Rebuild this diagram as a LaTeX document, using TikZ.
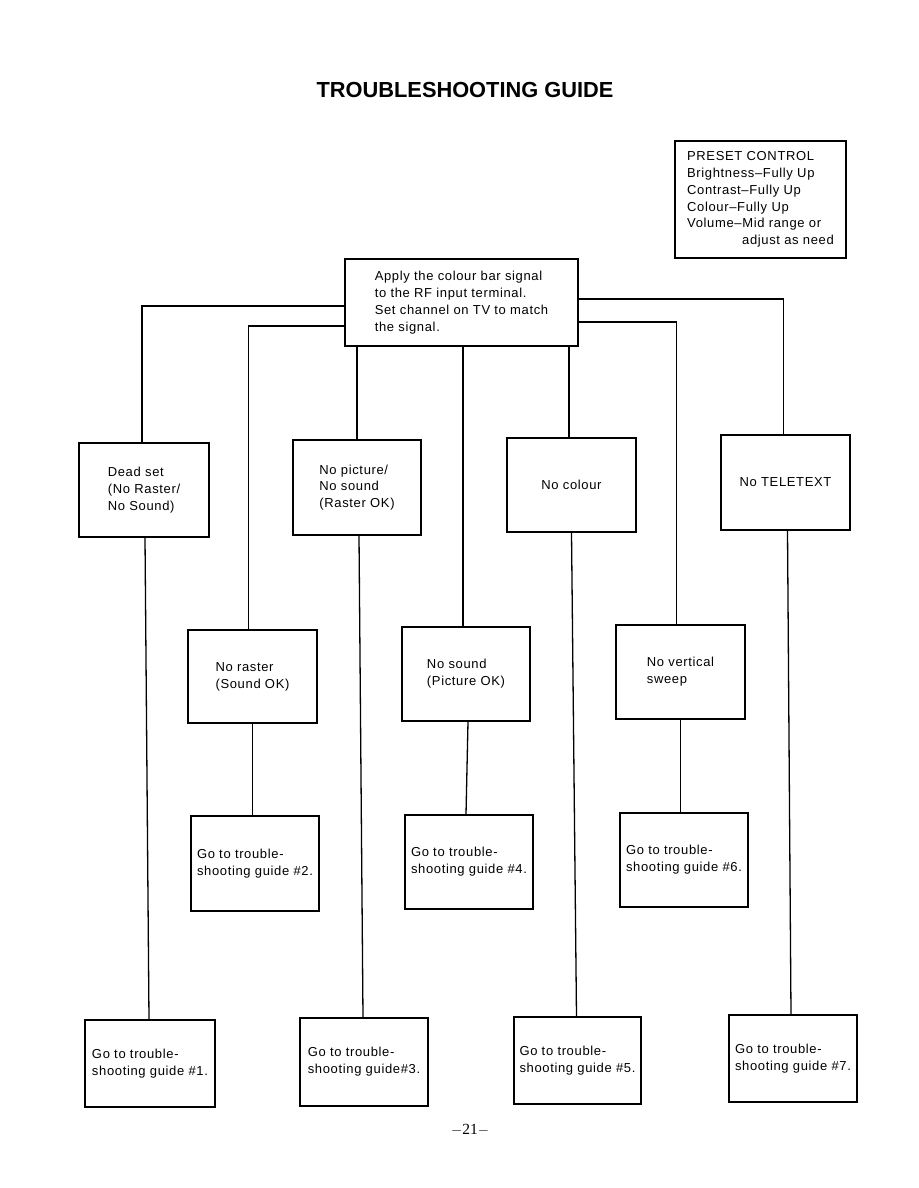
\documentclass[tikz,border=0pt]{standalone}
\usepackage{fontspec}
\setmainfont{Liberation Sans}
\newfontfamily\pagefont{Liberation Serif}
\newfontfamily\boxfont[LetterSpace=5]{Liberation Sans}
\usetikzlibrary{calc}

\tikzset{
  box/.style={draw, line width=1.3pt, align=left, inner sep=0pt,
    font=\boxfont\fontsize{13}{16.8}\selectfont},
  link/.style={line width=1.3pt},
}

\begin{document}
\begin{tikzpicture}[x=1pt,y=-1pt]
\useasboundingbox (0,0) rectangle (918,1188);
% title
\node (title) at (465,90) {\fontsize{21.8}{24}\selectfont\bfseries TROUBLESHOOTING GUIDE};
% preset settings
\node[box, minimum width=171pt, minimum height=117pt] (preset) at (760.5,199.5)
  {PRESET CONTROL\\Brightness\textendash Fully Up\\Contrast\textendash Fully Up\\Colour\textendash Fully Up\\Volume\textendash Mid range or\\\hspace*{55pt}adjust as need};
% start
\node[box, minimum width=233pt, minimum height=87pt] (apply) at (461.5,302.5)
  {Apply the colour bar signal\\to the RF input terminal.\\Set channel on TV to match\\the signal.};
% symptoms, first row
\node[box, minimum width=130pt, minimum height=94pt] (dead) at (144,490) {Dead set\\(No Raster/\\No Sound)};
\node[box, minimum width=128pt, minimum height=95pt] (nopic) at (357,487.5) {No picture/\\No sound\\(Raster OK)};
\node[box, minimum width=129pt, minimum height=94pt] (nocol) at (571.5,485) {No colour};
\node[box, minimum width=129pt, minimum height=95pt] (tele) at (785.5,482.5) {No TELETEXT};
% symptoms, second row
\node[box, minimum width=129pt, minimum height=93pt] (raster) at (252.5,676.5) {No raster\\(Sound OK)};
\node[box, minimum width=128pt, minimum height=94pt] (nosnd) at (466,674) {No sound\\(Picture OK)};
\node[box, minimum width=129pt, minimum height=94pt] (vert) at (680.5,672) {No vertical\\sweep};
% guides
\node[box, minimum width=128pt, minimum height=95pt] (g2) at (255,863.5) {Go to trouble-\\shooting guide \#2.};
\node[box, minimum width=128pt, minimum height=94pt] (g4) at (469,862) {Go to trouble-\\shooting guide \#4.};
\node[box, minimum width=128pt, minimum height=94pt] (g6) at (684,860) {Go to trouble-\\shooting guide \#6.};
\node[box, minimum width=130pt, minimum height=87pt] (g1) at (150,1063.5) {Go to trouble-\\shooting guide \#1.};
\node[box, minimum width=128pt, minimum height=88pt] (g3) at (364,1062) {Go to trouble-\\shooting guide\#3.};
\node[box, minimum width=127pt, minimum height=87pt] (g5) at (577.5,1060.5) {Go to trouble-\\shooting guide \#5.};
\node[box, minimum width=128pt, minimum height=87pt] (g7) at (793,1058.5) {Go to trouble-\\shooting guide \#7.};
% page number
\node[font=\pagefont\fontsize{15.5}{17}\selectfont] (pageno) at (470,1130) {$-$21$-$};

% connectors from the start box
\draw[link] (apply.west |- 0,306) -| ([xshift=-2pt]dead.north);
\draw[link] (apply.west |- 0,326) -| ([xshift=-4pt]raster.north);
\draw[link] (apply.east |- 0,299) -| ([xshift=-2pt]tele.north);
\draw[link] (apply.east |- 0,322) -| ([xshift=-4pt]vert.north);
\draw[link] (apply.south -| nopic.north) -- (nopic.north);
\draw[link] (apply.south -| 463,0) -- (nosnd.north -| 463,0);
\draw[link] (apply.south -| 569,0) -- (nocol.north -| 569,0);
% connectors down to the guides
\draw[link] ([xshift=1pt]dead.south) -- ([xshift=-1pt]g1.north);
\draw[link] (raster.south) -- (raster.south |- g2.north);
\draw[link] ([xshift=2pt]nopic.south) -- ([xshift=-1pt]g3.north);
\draw[link] ([xshift=2pt]nosnd.south) -- (nosnd.south |- g4.north);
\draw[link] (nocol.south) -- ([xshift=-1pt]g5.north);
\draw[link] (vert.south) -- (vert.south |- g6.north);
\draw[link] ([xshift=2pt]tele.south) -- ([xshift=-2pt]g7.north);
\end{tikzpicture}
\end{document}
